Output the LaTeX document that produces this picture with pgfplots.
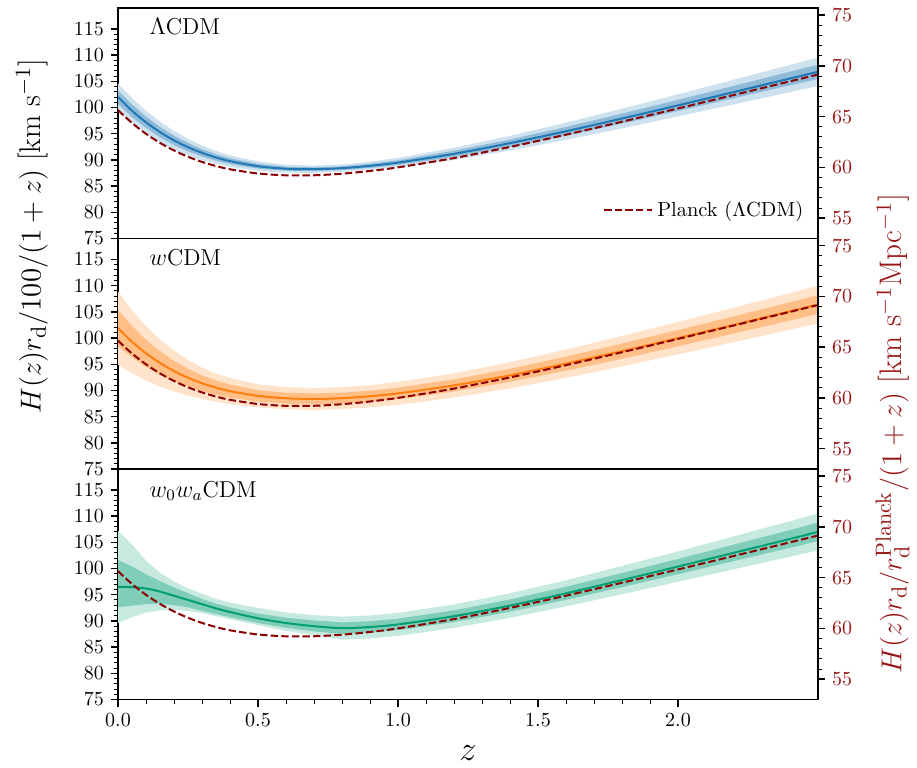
\documentclass[border=0pt]{standalone}
\usepackage{pgfplots}
\usepackage{pgfplotstable}
\pgfplotsset{compat=1.18}
\usepgfplotslibrary{fillbetween}

\definecolor{cblue}{RGB}{31,119,180}
\definecolor{corange}{RGB}{255,127,14}
\definecolor{cgreen}{RGB}{2,158,115}
\definecolor{pred}{RGB}{139,0,0}
\definecolor{rlab}{RGB}{150,20,20}

\pgfplotstableread{
z    p
0    99.50
0.05 97.05
0.1  94.98
0.15 93.25
0.2  91.80
0.25 90.60
0.3  89.62
0.35 88.84
0.4  88.21
0.5  87.41
0.6  87.06
0.7  87.07
0.8  87.37
0.9  87.89
1.0  88.58
1.2  90.35
1.4  92.48
1.6  94.82
1.8  97.29
2.0  99.83
2.2  102.41
2.4  105.00
2.5  106.30
}\planck

\pgfplotstableread{
z    c      lo1    hi1    lo2    hi2
0    102.00 100.70 103.30 99.40  104.60
0.05 99.39  98.19  100.59 96.99  101.79
0.1  97.18  96.08  98.28  94.98  99.38
0.15 95.31  94.31  96.31  93.31  97.31
0.2  93.74  92.84  94.64  91.94  95.54
0.25 92.43  91.63  93.23  90.83  94.03
0.3  91.35  90.65  92.05  89.95  92.75
0.35 90.47  89.85  91.09  89.23  91.71
0.4  89.77  89.22  90.32  88.67  90.87
0.5  88.80  88.35  89.25  87.90  89.70
0.6  88.32  87.94  88.70  87.56  89.08
0.7  88.23  87.88  88.58  87.53  88.93
0.8  88.43  88.08  88.78  87.73  89.13
0.9  88.87  88.47  89.27  88.07  89.67
1.0  89.49  89.04  89.94  88.59  90.39
1.2  91.16  90.58  91.74  90.00  92.32
1.4  93.20  92.50  93.90  91.80  94.60
1.6  95.47  94.65  96.29  93.83  97.11
1.8  97.90  96.96  98.84  96.02  99.78
2.0  100.41 99.35  101.47 98.29  102.53
2.2  102.97 101.79 104.15 100.61 105.33
2.4  105.54 104.24 106.84 102.94 108.14
2.5  106.83 105.47 108.19 104.11 109.55
}\lcdm

\pgfplotstableread{
z    c      lo1    hi1    lo2    hi2
0    101.90 98.40  105.40 94.90  108.90
0.05 99.30  96.30  102.30 93.30  105.30
0.1  97.08  94.48  99.68  91.88  102.28
0.15 95.25  93.00  97.50  90.75  99.75
0.2  93.70  91.75  95.65  89.80  97.60
0.25 92.42  90.72  94.12  89.02  95.82
0.3  91.37  89.87  92.87  88.37  94.37
0.35 90.54  89.19  91.89  87.84  93.24
0.4  89.86  88.61  91.11  87.36  92.36
0.5  88.96  87.86  90.06  86.76  91.16
0.6  88.51  87.46  89.56  86.41  90.61
0.7  88.37  87.32  89.42  86.27  90.47
0.8  88.52  87.47  89.57  86.42  90.62
0.9  88.89  87.84  89.94  86.79  90.99
1.0  89.43  88.33  90.53  87.23  91.63
1.2  90.95  89.80  92.10  88.65  93.25
1.4  92.88  91.63  94.13  90.38  95.38
1.6  95.12  93.77  96.47  92.42  97.82
1.8  97.49  96.04  98.94  94.59  100.39
2.0  99.98  98.43  101.53 96.88  103.08
2.2  102.51 100.86 104.16 99.21  105.81
2.4  105.10 103.35 106.85 101.60 108.60
2.5  106.40 104.60 108.20 102.80 110.00
}\wcdm

\pgfplotstableread{
z    c      lo1    hi1    lo2    hi2
0    96.50  92.60  101.60 89.60  107.20
0.05 96.45  92.90  100.40 90.70  104.60
0.1  96.20  93.20  98.90  91.60  101.50
0.15 95.60  93.30  97.60  92.00  99.20
0.2  94.80  93.00  96.40  92.10  97.50
0.25 94.00  92.60  95.30  91.90  96.20
0.3  93.20  91.90  94.20  91.50  95.20
0.35 92.40  91.30  93.30  90.90  94.20
0.4  91.70  90.70  92.60  90.30  93.50
0.5  90.50  89.60  91.40  89.20  92.50
0.6  89.60  88.70  90.60  88.10  91.60
0.7  89.00  88.00  90.10  87.30  91.10
0.8  88.62  87.52  89.72  86.42  90.82
0.9  88.84  87.74  89.94  86.64  91.04
1.0  89.33  88.23  90.43  87.13  91.53
1.2  90.90  89.78  92.02  88.66  93.14
1.4  92.93  91.76  94.10  90.59  95.27
1.6  95.27  94.02  96.52  92.77  97.77
1.8  97.79  96.44  99.14  95.09  100.49
2.0  100.38 98.93  101.83 97.48  103.28
2.2  103.01 101.44 104.58 99.87  106.15
2.4  105.65 103.95 107.35 102.25 109.05
2.5  107.00 105.23 108.77 103.46 110.54
}\wwcdm

\pgfplotsset{
  panel/.style={
    width=350pt, height=115.25pt, scale only axis,
    xmin=0, xmax=2.5, ymin=75, ymax=119,
    ytick={75,80,...,115}, minor y tick num=4, ytick pos=left,
    tick align=outside, major tick length=3.5pt, minor tick length=2pt,
    axis line style={line width=0.9pt},
    every tick/.style={black, line width=0.7pt},
    every minor tick/.style={black, line width=0.5pt},
    tick label style={font=\fontsize{10.3}{12}\selectfont},
  },
  rpanel/.style={
    width=350pt, height=115.25pt, scale only axis,
    xmin=0, xmax=2.5, ymin=53.0, ymax=75.7,
    ytick={55,60,...,75}, minor y tick num=4,
    axis y line*=right, hide x axis,
    tick align=outside, major tick length=3.5pt, minor tick length=2pt,
    axis line style={line width=0.9pt},
    every tick/.style={black, line width=0.7pt},
    every minor tick/.style={black, line width=0.5pt},
    yticklabel style={font=\fontsize{10.3}{12}\selectfont, text=rlab},
  },
  planckline/.style={pred, line width=1pt, dash pattern=on 3.7pt off 1.6pt},
}

\newcommand{\bands}[2]{%
  \addplot[draw=none, name path=o1, forget plot] table[x=z,y=hi2]{#1};
  \addplot[draw=none, name path=o2, forget plot] table[x=z,y=lo2]{#1};
  \addplot[draw=none, name path=i1, forget plot] table[x=z,y=hi1]{#1};
  \addplot[draw=none, name path=i2, forget plot] table[x=z,y=lo1]{#1};
  \addplot[fill=#2!22, draw=none, forget plot] fill between[of=o1 and o2];
  \addplot[fill=#2!50, draw=none, forget plot] fill between[of=i1 and i2];
  \addplot[#2, line width=1pt, smooth, forget plot] table[x=z,y=c]{#1};
}

\begin{document}
\begin{tikzpicture}

% top panel
\begin{axis}[panel, at={(0pt,230.5pt)}, anchor=south west, xtick=\empty,
  legend style={at={(rel axis cs:0.988,0.055)}, anchor=south east, draw=none, fill=none,
    font=\fontsize{10.2}{12}\selectfont, inner sep=1pt},
  legend cell align=left,
  legend image code/.code={\draw[#1] (0pt,0pt) -- (18.5pt,0pt); \path (0pt,0pt) -- (24pt,0pt);}]
  \bands{\lcdm}{cblue}
  \addplot[planckline, smooth] table[x=z,y=p]{\planck};
  \addlegendentry{Planck ($\Lambda$CDM)}
  \node[anchor=west, font=\fontsize{11.5}{14}\selectfont] at (rel axis cs:0.035,0.918) {$\Lambda$CDM};
\end{axis}
\begin{axis}[rpanel, at={(0pt,230.5pt)}, anchor=south west]
  \addplot[draw=none, forget plot] coordinates {(1,60)};
\end{axis}

% middle panel
\begin{axis}[panel, at={(0pt,115.25pt)}, anchor=south west, xtick=\empty]
  \bands{\wcdm}{corange}
  \addplot[planckline, smooth] table[x=z,y=p]{\planck};
  \node[anchor=west, font=\fontsize{11.5}{14}\selectfont] at (rel axis cs:0.035,0.918) {$w$CDM};
\end{axis}
\begin{axis}[rpanel, at={(0pt,115.25pt)}, anchor=south west]
  \addplot[draw=none, forget plot] coordinates {(1,60)};
\end{axis}

% bottom panel
\begin{axis}[panel, at={(0pt,0pt)}, anchor=south west,
  xtick={0,0.5,...,2.0}, minor x tick num=4, xtick pos=bottom,
  xticklabel style={/pgf/number format/.cd, fixed, fixed zerofill, precision=1}]
  \bands{\wwcdm}{cgreen}
  \addplot[planckline, smooth] table[x=z,y=p]{\planck};
  \node[anchor=west, font=\fontsize{11.5}{14}\selectfont] at (rel axis cs:0.035,0.905) {$w_0w_a$CDM};
\end{axis}
\begin{axis}[rpanel, at={(0pt,0pt)}, anchor=south west]
  \addplot[draw=none, forget plot] coordinates {(1,60)};
\end{axis}

% axis labels
\node[rotate=90, font=\fontsize{15}{18}\selectfont] at (-43pt,231.75pt)
  {$H(z)r_{\rm d}/100/(1+z)$ [km s$^{-1}$]};
\node[rotate=90, anchor=west, inner sep=0pt, font=\fontsize{15.6}{18}\selectfont, text=rlab] at (388pt,13pt)
  {\strut$H(z)r_{\rm d}/r_{\rm d}^{\rm Planck}/(1+z)$ [km s$^{-1}$Mpc$^{-1}$]};
\node[font=\fontsize{16}{19}\selectfont, inner sep=1pt] at (175pt,-27pt) {$z$};
\path (-59pt,-33.75pt) rectangle (399.5pt,349.75pt);
\end{tikzpicture}
\end{document}
